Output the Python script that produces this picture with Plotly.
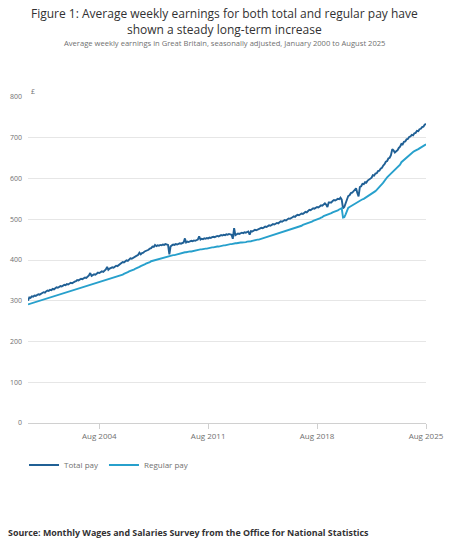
import plotly.graph_objects as go
import pandas as pd

# Monthly average weekly earnings (GBP), Jan 2000 - Aug 2025
total_pay_by_year = {
    2000: [300, 308, 307, 311, 310, 313, 312, 315, 316, 315, 318, 319],
    2001: [321, 320, 323, 325, 324, 327, 326, 329, 328, 331, 333, 332],
    2002: [334, 336, 335, 337, 339, 338, 341, 340, 342, 344, 343, 346],
    2003: [347, 348, 351, 350, 352, 354, 353, 355, 357, 356, 358, 362],
    2004: [368, 361, 363, 365, 364, 367, 369, 368, 370, 372, 371, 374],
    2005: [377, 383, 376, 379, 380, 382, 381, 384, 386, 385, 388, 390],
    2006: [392, 395, 394, 398, 399, 398, 401, 404, 403, 405, 407, 408],
    2007: [410, 413, 418, 414, 417, 418, 421, 422, 424, 425, 428, 429],
    2008: [433, 432, 437, 434, 436, 435, 437, 436, 438, 437, 439, 438],
    2009: [437, 414, 433, 436, 438, 437, 439, 438, 440, 441, 440, 442],
    2010: [443, 453, 443, 445, 444, 446, 447, 446, 448, 447, 449, 450],
    2011: [458, 450, 452, 451, 453, 452, 454, 453, 455, 454, 456, 457],
    2012: [456, 458, 459, 458, 460, 461, 460, 462, 461, 463, 462, 464],
    2013: [463, 462, 452, 478, 461, 464, 465, 464, 466, 467, 466, 468],
    2014: [467, 469, 470, 462, 471, 470, 472, 474, 473, 475, 476, 477],
    2015: [479, 478, 480, 482, 481, 483, 485, 484, 486, 488, 487, 489],
    2016: [491, 490, 493, 495, 494, 497, 498, 497, 500, 502, 501, 504],
    2017: [505, 507, 506, 509, 511, 510, 513, 514, 513, 516, 518, 517],
    2018: [520, 523, 522, 525, 527, 526, 529, 530, 529, 532, 534, 533],
    2019: [536, 539, 536, 530, 541, 542, 541, 545, 547, 546, 548, 550],
    2020: [549, 553, 548, 527, 530, 541, 548, 557, 559, 564, 565, 569],
    2021: [572, 576, 565, 556, 579, 581, 587, 586, 591, 590, 595, 597],
    2022: [601, 602, 608, 607, 612, 613, 618, 619, 624, 626, 632, 635],
    2023: [641, 643, 649, 651, 657, 672, 669, 664, 667, 669, 675, 678],
    2024: [685, 684, 690, 691, 696, 697, 702, 703, 707, 706, 711, 712],
    2025: [717, 716, 721, 722, 726, 727, 732, 734],
}

regular_pay_by_year = {
    2000: [291, 292, 293, 294, 295, 296, 297, 298, 299, 300, 301, 302],
    2001: [304, 305, 306, 307, 308, 309, 310, 311, 312, 313, 314, 315],
    2002: [316, 317, 318, 319, 320, 321, 322, 323, 324, 325, 326, 326],
    2003: [327, 328, 329, 330, 331, 332, 333, 334, 335, 336, 337, 337],
    2004: [338, 339, 340, 341, 342, 343, 344, 345, 346, 347, 348, 349],
    2005: [350, 351, 352, 353, 354, 355, 356, 357, 358, 359, 361, 362],
    2006: [363, 364, 366, 367, 369, 370, 372, 373, 375, 376, 377, 379],
    2007: [380, 382, 383, 385, 386, 388, 389, 391, 392, 394, 395, 397],
    2008: [398, 399, 400, 401, 402, 403, 404, 405, 406, 407, 408, 409],
    2009: [410, 410, 411, 411, 412, 412, 413, 414, 415, 416, 416, 417],
    2010: [418, 419, 419, 420, 420, 421, 421, 422, 422, 423, 424, 424],
    2011: [425, 426, 426, 427, 427, 428, 428, 429, 429, 430, 431, 431],
    2012: [432, 432, 433, 433, 434, 435, 435, 436, 436, 437, 437, 438],
    2013: [439, 439, 440, 440, 441, 441, 442, 442, 443, 443, 443, 444],
    2014: [444, 445, 445, 446, 446, 447, 448, 448, 449, 450, 450, 451],
    2015: [452, 453, 454, 455, 456, 457, 458, 458, 459, 460, 461, 462],
    2016: [463, 464, 465, 466, 467, 468, 469, 470, 471, 472, 474, 475],
    2017: [477, 478, 479, 480, 481, 482, 483, 484, 486, 487, 488, 489],
    2018: [491, 492, 493, 494, 496, 497, 498, 500, 501, 502, 504, 505],
    2019: [508, 509, 510, 512, 513, 514, 515, 517, 518, 519, 521, 522],
    2020: [524, 525, 527, 504, 505, 512, 520, 528, 530, 532, 534, 536],
    2021: [538, 540, 542, 543, 545, 547, 549, 550, 552, 554, 556, 558],
    2022: [560, 562, 564, 566, 569, 572, 575, 578, 582, 586, 590, 595],
    2023: [600, 603, 606, 609, 612, 615, 618, 621, 624, 627, 630, 634],
    2024: [640, 643, 646, 649, 652, 655, 658, 661, 663, 665, 667, 668],
    2025: [670, 672, 674, 676, 678, 680, 682, 684],
}

tick_dates = ["2004-08-01", "2011-08-01", "2018-08-01", "2025-08-01"]
tick_labels = ["Aug 2004", "Aug 2011", "Aug 2018", "Aug 2025"]
y_ticks = [0, 100, 200, 300, 400, 500, 600, 700, 800]

total_pay = [v for y in sorted(total_pay_by_year) for v in total_pay_by_year[y]]
regular_pay = [v for y in sorted(regular_pay_by_year) for v in regular_pay_by_year[y]]
dates = pd.date_range("2000-01-01", periods=len(total_pay), freq="MS")

FONT = "Open Sans"
L, T, W, H = 28, 97, 398, 326


def px_x(px):
    return (px - L) / W


def px_y(py):
    return (T + H - py) / H


fig = go.Figure()
fig.add_trace(go.Scatter(x=dates, y=total_pay, mode="lines", name="Total pay",
                         line=dict(color="#206095", width=1.9)))
fig.add_trace(go.Scatter(x=dates, y=regular_pay, mode="lines", name="Regular pay",
                         line=dict(color="#27a0cc", width=1.9)))

fig.update_layout(
    width=449, height=550,
    margin=dict(l=L, r=449 - L - W, t=T, b=550 - T - H, autoexpand=False),
    paper_bgcolor="white", plot_bgcolor="white",
    font=dict(family=FONT, color="#707070", size=8),
    showlegend=True,
    legend=dict(orientation="h", x=-0.01, xanchor="left", y=px_y(465), yanchor="middle",
                font=dict(size=8, color="#707070"), itemwidth=30, tracegroupgap=0),
    xaxis=dict(type="date", range=["2000-01-01", "2025-08-01"], automargin=False,
               tickvals=tick_dates, ticktext=tick_labels,
               showgrid=False, showline=True, linecolor="#d0d0d0", linewidth=1,
               ticks="outside", ticklen=5, tickcolor="#d0d0d0",
               tickfont=dict(size=8, color="#707070"), zeroline=False),
    yaxis=dict(range=[0, 800], tickvals=y_ticks, showgrid=True, gridcolor="#e6e6e6",
               gridwidth=1, zeroline=False, showline=False, ticks="", automargin=False,
               tickfont=dict(size=7, color="#707070"), ticklabelstandoff=5),
)

annotations = [
    dict(text="Figure 1: Average weekly earnings for both total and regular pay have<br>shown a steady long-term increase",
         xref="paper", yref="paper", x=px_x(224.5), y=px_y(3),
         xanchor="center", yanchor="top", showarrow=False, align="center",
         font=dict(family=FONT, size=12, color="#323132")),
    dict(text="Average weekly earnings in Great Britain, seasonally adjusted, January 2000 to August 2025",
         xref="paper", yref="paper", x=px_x(224.5), y=px_y(43),
         xanchor="center", yanchor="middle", showarrow=False,
         font=dict(family=FONT, size=7.6, color="#707070")),
    dict(text="£", xref="paper", yref="paper", x=px_x(29), y=px_y(91),
         xanchor="left", yanchor="middle", showarrow=False,
         font=dict(family=FONT, size=7, color="#707070")),
    dict(text="<b>Source: Monthly Wages and Salaries Survey from the Office for National Statistics</b>",
         xref="paper", yref="paper", x=px_x(6), y=px_y(532),
         xanchor="left", yanchor="middle", showarrow=False,
         font=dict(family=FONT, size=8.9, color="#323132")),
]
fig.update_layout(annotations=annotations)

fig.write_html("out.html", config={"displayModeBar": False},
               post_script="document.body.style.margin='0';")
